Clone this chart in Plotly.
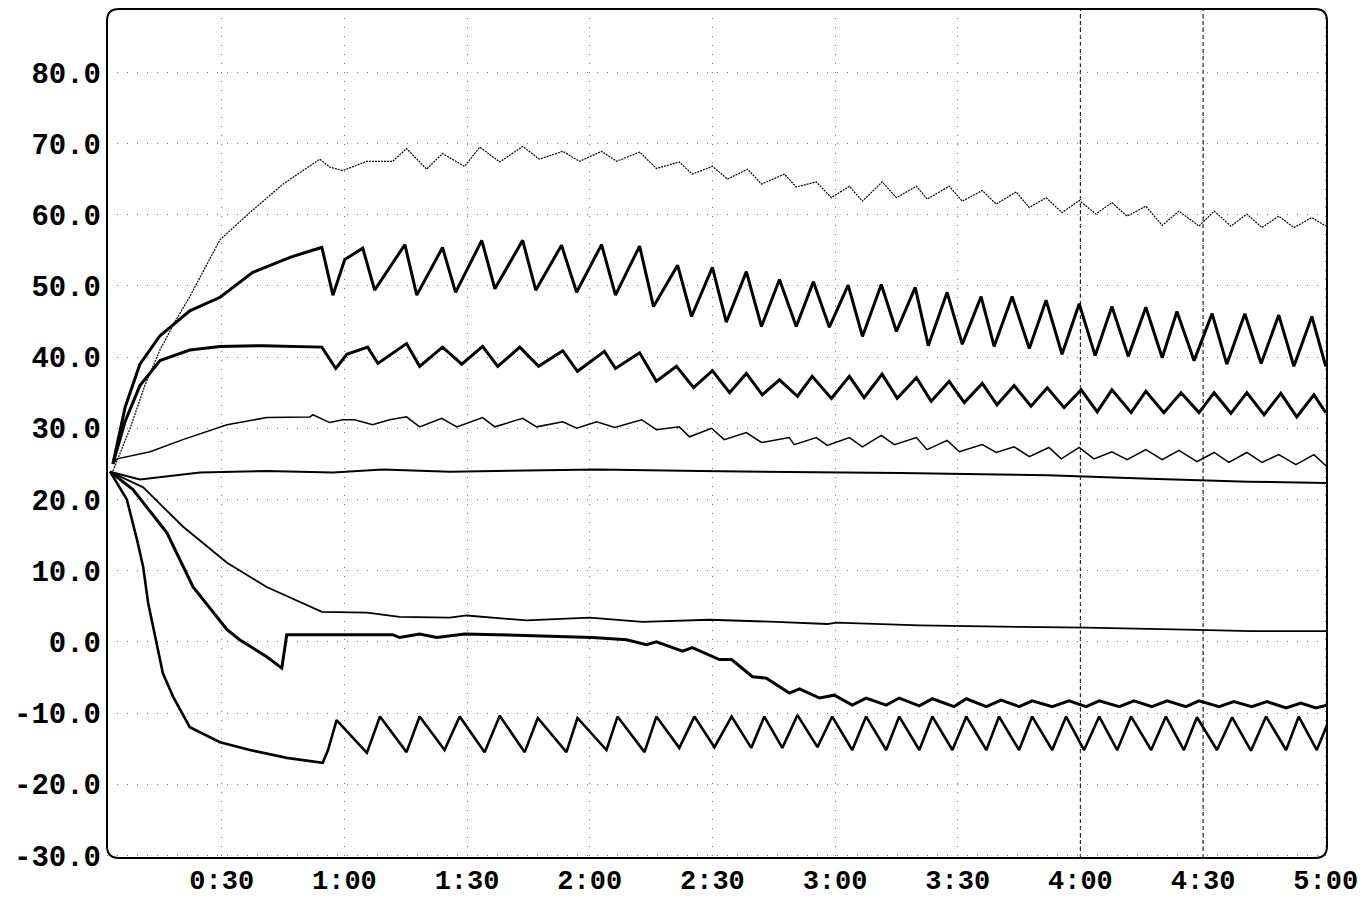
import plotly.graph_objects as go

# ---- measured temperatures (°C) against elapsed time (s) ----
t1 = [3.4, 7.6, 11.2, 14.9, 18.6, 22.2, 25.9, 29.6, 36.9, 45.0, 54.0, 56.4, 59.6, 65.5,
      71.8, 75.2, 80.1, 84.0, 89.4, 93.1, 98.0, 103.6, 107.7, 113.4, 117.5, 122.9, 126.6,
      132.2, 136.3, 141.9, 145.1, 150.0, 153.7, 158.6, 162.0, 167.6, 170.5, 175.4, 179.1,
      183.5, 186.7, 191.5, 195.0, 199.9, 202.5, 207.9, 211.1, 216.0, 219.4, 224.3, 227.5,
      231.6, 235.5, 239.7, 243.8, 247.7, 251.4, 256.0, 260.0, 264.1, 269.0, 272.7, 276.8,
      280.7, 284.4, 288.5, 292.2, 296.6, 300.0]
v1 = [24.0, 30.0, 36.0, 41.0, 45.0, 48.5, 52.5, 56.5, 60.3, 64.3, 67.8, 66.7, 66.2, 67.5,
      67.5, 69.3, 66.4, 68.6, 66.8, 69.5, 67.4, 69.6, 67.8, 68.9, 67.5, 68.9, 67.5,
      68.8, 66.5, 67.4, 65.7, 66.8, 65.0, 66.4, 64.3, 65.7, 63.9, 64.6, 62.4,
      64.0, 61.9, 64.6, 62.4, 64.0, 62.2, 64.0, 61.9, 63.4, 61.5, 63.2, 61.0,
      62.4, 60.3, 62.0, 60.1, 61.7, 59.8, 61.2, 58.5, 60.5, 58.4, 60.5, 58.4,
      60.1, 58.2, 59.8, 58.2, 59.6, 58.4]

t2 = [3.4, 6.4, 10.0, 14.9, 22.2, 29.6, 37.6, 46.7, 51.6, 54.5, 57.2, 60.1, 64.5, 67.4,
      74.8, 77.7, 84.0, 87.2, 93.6, 96.8, 103.6, 106.8, 113.1, 116.8, 122.9, 126.3, 132.2,
      135.6, 141.5, 144.9, 150.0, 153.4, 158.3, 162.0, 166.4, 170.5, 174.7, 178.6, 183.2,
      186.7, 191.3, 195.0, 199.6, 202.8, 207.4, 211.1, 215.7, 218.9, 223.3, 227.5, 231.6,
      235.5, 239.7, 243.6, 247.7, 251.7, 256.0, 260.0, 263.6, 267.8, 272.2, 275.8, 280.2,
      284.2, 288.5, 292.2, 296.6, 300.0]
v2 = [25.0, 33.0, 39.0, 43.0, 46.5, 48.4, 51.9, 54.0, 54.9, 55.4, 48.7, 53.7, 55.3, 49.4,
      55.8, 48.7, 55.4, 49.1, 56.4, 49.6, 56.4, 49.4, 55.7, 49.1, 55.8, 48.7, 55.6,
      47.1, 52.9, 45.7, 52.6, 44.9, 52.0, 44.3, 50.9, 44.3, 50.6, 44.2, 50.1,
      42.9, 50.2, 43.6, 49.8, 41.6, 49.1, 41.8, 48.5, 41.5, 48.5, 41.2, 48.0,
      40.4, 47.5, 40.2, 47.1, 40.1, 47.0, 39.9, 46.4, 39.5, 46.1, 39.0, 46.1,
      39.1, 45.9, 38.7, 45.7, 38.7]

t3 = [3.4, 6.4, 10.0, 14.9, 22.2, 29.6, 40.0, 51.6, 54.5, 57.9, 60.6, 65.7, 68.2, 75.2,
      78.4, 84.0, 88.7, 93.8, 97.5, 102.9, 107.5, 113.4, 117.0, 123.6, 126.3, 132.2, 136.3,
      141.2, 145.4, 150.0, 154.2, 158.3, 162.2, 166.4, 170.8, 174.4, 179.1, 183.5, 187.1,
      191.5, 195.2, 199.9, 203.5, 207.9, 211.6, 216.0, 219.6, 223.8, 227.9, 231.9, 236.0,
      240.2, 244.1, 247.7, 252.4, 256.0, 260.4, 264.6, 269.0, 272.7, 276.8, 280.7, 284.9,
      289.0, 292.9, 297.1, 300.0]
v3 = [25.0, 31.0, 36.0, 39.5, 41.0, 41.5, 41.6, 41.5, 41.4, 38.4, 40.4, 41.4, 39.1, 41.9,
      38.7, 41.4, 39.0, 41.5, 38.7, 41.4, 38.7, 40.9, 38.0, 40.8, 38.4, 40.6, 36.6,
      38.7, 35.7, 38.1, 35.0, 37.7, 34.7, 36.8, 34.5, 37.3, 34.2, 37.3, 34.3,
      37.6, 34.2, 37.1, 33.8, 36.6, 33.6, 36.3, 33.3, 36.0, 33.1, 35.7, 32.9,
      35.4, 32.3, 35.4, 32.2, 35.2, 32.2, 35.0, 32.2, 35.0, 32.1, 35.0, 31.9,
      34.9, 31.6, 34.7, 32.2]

t4 = [3.4, 4.4, 12.5, 20.5, 31.3, 41.0, 51.6, 52.3, 56.4, 59.6, 62.5, 66.9, 71.1, 75.2,
      78.4, 83.8, 87.5, 93.8, 96.8, 103.6, 107.0, 113.4, 116.8, 121.7, 126.1, 132.7, 136.3,
      141.9, 144.4, 149.8, 152.9, 158.3, 162.0, 168.8, 170.0, 175.4, 178.1, 183.5, 186.7,
      191.3, 194.5, 199.9, 202.5, 207.4, 210.4, 216.0, 219.4, 223.8, 227.5, 232.3, 235.3,
      239.7, 243.3, 247.7, 251.4, 256.0, 260.0, 264.1, 268.5, 272.7, 276.3, 280.7, 284.4,
      288.5, 292.7, 297.1, 300.3]
v4 = [25.0, 25.7, 26.7, 28.4, 30.5, 31.5, 31.6, 31.9, 30.8, 31.2, 31.2, 30.5, 31.2, 31.6,
      30.2, 31.4, 30.2, 31.5, 30.2, 31.4, 30.2, 30.9, 30.0, 30.9, 30.1, 31.2, 29.8,
      30.2, 28.8, 30.0, 28.4, 29.4, 28.0, 28.7, 27.7, 28.7, 27.6, 28.7, 27.4,
      29.0, 27.7, 28.7, 27.0, 28.3, 26.7, 27.7, 26.6, 27.4, 26.0, 27.3, 25.7,
      27.3, 25.7, 26.7, 25.6, 27.0, 25.6, 26.9, 25.3, 26.6, 25.2, 26.6, 25.2,
      26.3, 24.9, 26.3, 24.6]

t5 = [2.7, 10.0, 24.7, 41.0, 57.2, 69.4, 85.8, 98.0, 122.0, 147.0, 171.0, 196.0, 220.0,
      232.0, 257.0, 281.0, 300.3]
v5 = [23.9, 22.8, 23.8, 24.0, 23.8, 24.2, 23.9, 24.0, 24.2, 24.0, 23.9, 23.7, 23.5,
      23.4, 22.9, 22.5, 22.3]

t6 = [2.7, 10.8, 20.5, 31.3, 41.0, 49.1, 54.5, 65.5, 73.5, 85.8, 89.9, 104.6, 120.0,
      132.9, 149.3, 165.6, 178.1, 180.3, 200.6, 225.0, 241.4, 265.8, 281.9, 300.3]
v6 = [23.9, 21.7, 16.2, 11.1, 7.7, 5.6, 4.2, 4.1, 3.5, 3.4, 3.7, 3.0, 3.4,
      2.8, 3.1, 2.8, 2.5, 2.7, 2.3, 2.1, 2.0, 1.7, 1.5, 1.5]

t7 = [2.7, 8.3, 16.6, 23.0, 31.3, 34.4, 41.0, 44.7, 45.9, 57.2, 71.8, 73.5, 78.4, 82.6,
      89.4, 97.2, 116.8, 120.7, 129.0, 133.9, 136.3, 142.7, 145.1, 151.7, 154.7, 159.8,
      163.2, 168.8, 171.3, 176.2, 179.8, 184.2, 187.6, 192.5, 195.7, 200.6, 203.8, 209.1,
      212.1, 217.0, 220.6, 225.0, 228.2, 233.1, 237.2, 241.4, 244.6, 249.5, 253.1, 257.5,
      261.2, 265.8, 269.0, 273.9, 277.5, 281.9, 285.6, 290.3, 293.9, 297.6, 300.3]
v7 = [23.9, 21.4, 15.3, 7.7, 1.7, 0.3, -2.1, -3.7, 1.0, 1.0, 1.0, 0.6, 1.1, 0.6,
      1.1, 1.0, 0.7, 0.6, 0.3, -0.4, 0.0, -1.3, -0.8, -2.5, -2.5, -4.9,
      -5.1, -7.2, -6.6, -7.9, -7.5, -8.9, -7.9, -8.9, -7.9, -9.0, -8.0, -9.1,
      -8.0, -9.1, -8.2, -9.1, -8.3, -9.1, -8.3, -9.1, -8.3, -9.1, -8.3, -9.1,
      -8.3, -9.1, -8.3, -9.1, -8.4, -9.1, -8.4, -9.3, -8.6, -9.3, -8.9]

t8 = [2.7, 6.8, 9.3, 10.8, 12.0, 13.7, 15.6, 18.1, 22.2, 29.6, 36.9, 45.9, 54.7, 56.0,
      58.1, 65.5, 68.7, 75.2, 78.4, 84.5, 88.2, 94.3, 98.0, 104.1, 107.3, 114.3, 117.0,
      124.1, 126.8, 133.4, 136.3, 141.9, 145.6, 150.5, 154.7, 159.5, 162.7, 167.1, 170.8,
      175.7, 179.3, 184.2, 187.6, 192.5, 195.7, 200.6, 203.8, 208.7, 212.1, 217.0, 220.1,
      225.0, 228.2, 233.1, 236.5, 240.9, 244.6, 249.0, 252.4, 257.3, 260.9, 265.3, 268.5,
      273.4, 277.1, 281.7, 285.4, 290.3, 293.4, 297.8, 300.3]
v8 = [23.9, 20.0, 14.3, 10.5, 5.5, 1.0, -4.4, -7.7, -12.0, -14.1, -15.2, -16.3, -17.0, -15.2,
      -11.0, -15.6, -10.5, -15.5, -10.5, -15.2, -10.5, -15.5, -10.4, -15.5, -10.7, -15.5, -10.7,
      -15.2, -10.5, -15.5, -10.5, -14.9, -10.5, -14.8, -10.5, -14.9, -10.5, -14.9, -10.3,
      -14.8, -10.5, -15.2, -10.5, -15.2, -10.5, -15.2, -10.5, -15.2, -10.5, -15.2, -10.5,
      -15.2, -10.5, -15.2, -10.5, -15.2, -10.5, -15.2, -10.5, -15.2, -10.5, -15.2, -10.6,
      -15.2, -10.6, -15.3, -10.5, -15.2, -10.5, -15.2, -11.7]

x_ticks = [30, 60, 90, 120, 150, 180, 210, 240, 270, 300]
x_labels = ["0:30", "1:00", "1:30", "2:00", "2:30", "3:00", "3:30", "4:00", "4:30", "5:00"]
y_ticks = [-30, -20, -10, 0, 10, 20, 30, 40, 50, 60, 70, 80]
y_labels = ["-30.0", "-20.0", "-10.0", "0.0", "10.0", "20.0", "30.0", "40.0",
            "50.0", "60.0", "70.0", "80.0"]

# (times, values, line width, dash pattern)
traces = [
    (t1, v1, 1.2, "2px,1px"),
    (t2, v2, 3.0, "solid"),
    (t3, v3, 3.0, "solid"),
    (t4, v4, 1.5, "solid"),
    (t5, v5, 2.0, "solid"),
    (t6, v6, 1.8, "solid"),
    (t7, v7, 3.0, "solid"),
    (t8, v8, 2.6, "solid"),
]

fig = go.Figure()
for tx, vy, w, dash in traces:
    fig.add_trace(go.Scatter(
        x=tx, y=vy, mode="lines",
        line=dict(color="black", width=w, dash=dash),
        hoverinfo="skip", showlegend=False,
    ))

y_font = dict(family="Liberation Mono", size=29, color="black", weight="bold")
x_font = dict(family="Liberation Mono", size=27, color="black", weight="bold")

fig.update_xaxes(
    range=[1.95, 300.3], tickvals=x_ticks, ticktext=x_labels,
    showgrid=True, gridcolor="#777", gridwidth=1, griddash="1px,8px",
    zeroline=False, showline=False, ticks="", tickfont=x_font,
    ticklabelstandoff=3, automargin=False,
)
fig.update_yaxes(
    range=[-30.37, 88.9], tickvals=y_ticks, ticktext=y_labels,
    showgrid=True, gridcolor="#777", gridwidth=1, griddash="1px,9px",
    zeroline=False, showline=False, ticks="", tickfont=y_font,
    ticklabelstandoff=5, automargin=False,
)

# rounded plot frame
rx, ry = 0.0098, 0.0141
frame = (f"M {rx},0 L {1-rx},0 Q 1,0 1,{ry} L 1,{1-ry} Q 1,1 {1-rx},1 "
         f"L {rx},1 Q 0,1 0,{1-ry} L 0,{ry} Q 0,0 {rx},0 Z")
shapes = [dict(type="path", xref="paper", yref="paper", path=frame,
               line=dict(color="black", width=2), layer="above")]
# heavier grid rules at 4:00 and 4:30
for xv in (240, 270):
    shapes.append(dict(type="line", xref="x", yref="paper", x0=xv, x1=xv, y0=0, y1=1,
                       line=dict(color="#222", width=1.2, dash="4px,3px"), layer="below"))

fig.update_layout(
    width=1368, height=900,
    margin=dict(l=107, r=41, t=9, b=42),
    paper_bgcolor="white", plot_bgcolor="white",
    shapes=shapes,
)

fig.write_html("out.html")
